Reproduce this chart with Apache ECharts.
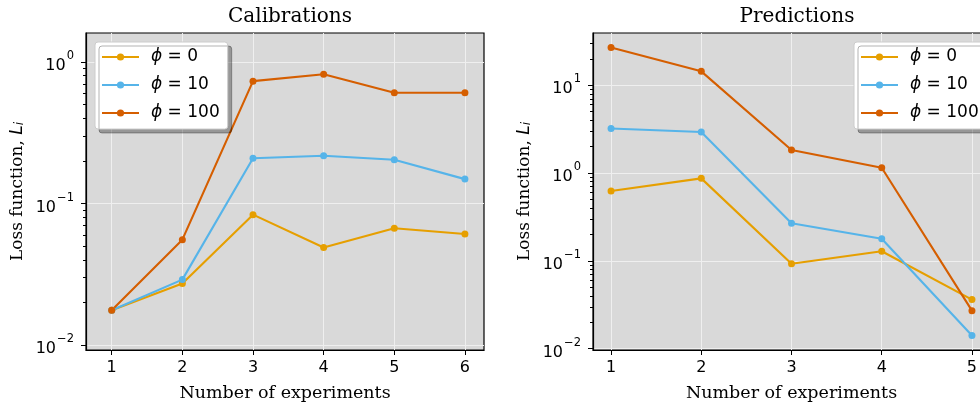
<!DOCTYPE html>
<html><head><meta charset="utf-8">
<script src="https://cdn.jsdelivr.net/npm/echarts@6/dist/echarts.min.js"></script>
<style>html,body{margin:0;padding:0;background:#fff}#c{width:980px;height:405px}</style>
</head><body><div id="c"></div>
<script>
// ---- data ----
const calibX = [1, 2, 3, 4, 5, 6];
const calibPhi0 = [0.0177, 0.0273, 0.0836, 0.049, 0.067, 0.061];
const calibPhi10 = [0.0177, 0.0291, 0.209, 0.218, 0.204, 0.149];
const calibPhi100 = [0.0177, 0.0557, 0.732, 0.820, 0.606, 0.606];
const predX = [1, 2, 3, 4, 5];
const predPhi0 = [0.624, 0.870, 0.0929, 0.1286, 0.0362];
const predPhi10 = [3.22, 2.93, 0.268, 0.179, 0.0141];
const predPhi100 = [26.9, 14.4, 1.83, 1.149, 0.0271];
const seriesNames = ['ϕ = 0', 'ϕ = 10', 'ϕ = 100'];
const calibXTicks = [1, 2, 3, 4, 5, 6];
const predXTicks = [1, 2, 3, 4, 5];
const calibMajorY = [0.01, 0.1, 1];
const calibMinorY = [0.02, 0.03, 0.04, 0.05, 0.06, 0.07, 0.08, 0.09, 0.2, 0.3, 0.4, 0.5, 0.6, 0.7, 0.8, 0.9];
const predMajorY = [0.01, 0.1, 1, 10];
const predMinorY = [0.02, 0.03, 0.04, 0.05, 0.06, 0.07, 0.08, 0.09, 0.2, 0.3, 0.4, 0.5, 0.6, 0.7, 0.8, 0.9, 2, 3, 4, 5, 6, 7, 8, 9, 20, 30];

// ---- style ----
const colors = ['#E69F00', '#56B4E9', '#D55E00'];
const SERIF = 'DejaVu Serif';
const SANS = 'DejaVu Sans';
const chart = echarts.init(document.getElementById('c'), null, {renderer: 'canvas'});

function pairs(xs, ys) { return xs.map((x, i) => [x, ys[i]]); }
function powLabel(v) {
  const e = Math.round(Math.log10(v));
  const s = e < 0 ? '−' + (-e) : String(e);
  return '{b|10}{s|' + s + '}';
}
const tickLabelRich = {
  b: {fontFamily: SANS, fontSize: 16, color: '#000', lineHeight: 24, verticalAlign: 'bottom'},
  s: {fontFamily: SANS, fontSize: 11.5, color: '#000', lineHeight: 24, verticalAlign: 'top', padding: [0, 0, 0, 1]}
};

const grids = [
  {left: 86, top: 33, width: 398, height: 317},
  {left: 593, top: 33, width: 397, height: 317}
].map(g => Object.assign(g, {show: true, backgroundColor: '#d9d9d9', borderColor: '#000', borderWidth: 1.2,
  containLabel: false, outerBoundsMode: 'none'}));

function xAxisDef(gi, min, max, ticks) {
  return {
    type: 'value', gridIndex: gi, min: min, max: max,
    name: 'Number of experiments', nameLocation: 'middle', nameGap: 34,
    nameTextStyle: {fontFamily: SERIF, fontSize: 17.5, color: '#000'},
    axisLine: {show: true, lineStyle: {color: '#000', width: 1.2}},
    axisTick: {show: true, inside: false, length: 5, customValues: ticks, lineStyle: {color: '#000', width: 1}},
    axisLabel: {show: true, customValues: ticks, margin: 10, fontFamily: SANS, fontSize: 16, color: '#000'},
    splitLine: {show: true, lineStyle: {color: '#efefef', width: 1}}
  };
}
function yAxisMajor(gi, min, max, ticks) {
  return {
    type: 'log', logBase: 10, gridIndex: gi, min: min, max: max, position: 'left',
    name: 'Loss function, {it|L}{sub|i}', nameLocation: 'middle', nameGap: 60,
    nameTextStyle: {fontFamily: SERIF, fontSize: 17, color: '#000',
      rich: {it: {fontFamily: SANS, fontStyle: 'italic', fontSize: 17, color: '#000'},
             sub: {fontFamily: SANS, fontStyle: 'italic', fontSize: 12, color: '#000', verticalAlign: 'bottom', lineHeight: 14}}},
    axisLine: {show: true, lineStyle: {color: '#000', width: 1.2}},
    axisTick: {show: true, inside: false, length: 5, customValues: ticks, lineStyle: {color: '#000', width: 1}},
    axisLabel: {show: true, customValues: ticks, margin: 12, formatter: powLabel, rich: tickLabelRich},
    splitLine: {show: true, lineStyle: {color: '#efefef', width: 1}},
    minorTick: {show: false}
  };
}
function yAxisMinor(gi, min, max, ticks) {
  return {
    type: 'log', logBase: 10, gridIndex: gi, min: min, max: max, position: 'left', offset: 0,
    axisLine: {show: false},
    axisTick: {show: true, inside: false, length: 3, customValues: ticks, lineStyle: {color: '#000', width: 1}},
    axisLabel: {show: false},
    splitLine: {show: false}
  };
}

function lineSeries(name, xi, yi, data, color) {
  return {
    type: 'line', name: name, xAxisIndex: xi, yAxisIndex: yi, data: data,
    symbol: 'circle', symbolSize: 7, showSymbol: true,
    lineStyle: {color: color, width: 2.1},
    itemStyle: {color: color},
    emphasis: {disabled: true}, animation: false, clip: true
  };
}

function legendDef(left) {
  return {
    orient: 'vertical', left: left, top: 42,
    data: seriesNames,
    itemWidth: 37, itemHeight: 9, itemGap: 10,
    padding: [6, 8, 7, 6],
    backgroundColor: '#ffffff', borderColor: '#cccccc', borderWidth: 1, borderRadius: 3,
    shadowColor: 'rgba(0,0,0,0.3)', shadowBlur: 0, shadowOffsetX: 4, shadowOffsetY: 4,
    selectedMode: false,
    formatter: function (n) { return '{i|ϕ}{t|' + n.slice(1) + '}'; },
    textStyle: {
      fontFamily: SANS, fontSize: 17, color: '#000', lineHeight: 18, padding: [0, 0, 0, 7],
      rich: {i: {fontFamily: SANS, fontStyle: 'italic', fontSize: 17, lineHeight: 18},
             t: {fontFamily: SANS, fontSize: 17, lineHeight: 18}}
    }
  };
}

const calibLo = Math.pow(10, -2.033), calibHi = Math.pow(10, 0.2045);
const predLo = Math.pow(10, -2.015), predHi = Math.pow(10, 1.595);

const option = {
  backgroundColor: '#ffffff',
  animation: false,
  title: [
    {text: 'Calibrations', left: 285, top: 2, textAlign: 'center', textStyle: {fontFamily: SERIF, fontSize: 20, fontWeight: 'normal', color: '#000'}},
    {text: 'Predictions', left: 792, top: 2, textAlign: 'center', textStyle: {fontFamily: SERIF, fontSize: 20, fontWeight: 'normal', color: '#000'}}
  ],
  grid: grids,
  xAxis: [xAxisDef(0, 0.636, 6.27, calibXTicks), xAxisDef(1, 0.8, 5.2, predXTicks)],
  yAxis: [
    yAxisMajor(0, calibLo, calibHi, calibMajorY),
    yAxisMinor(0, calibLo, calibHi, calibMinorY),
    yAxisMajor(1, predLo, predHi, predMajorY),
    yAxisMinor(1, predLo, predHi, predMinorY)
  ],
  legend: [legendDef(95), legendDef(854)],
  series: [
    lineSeries(seriesNames[0], 0, 0, pairs(calibX, calibPhi0), colors[0]),
    lineSeries(seriesNames[1], 0, 0, pairs(calibX, calibPhi10), colors[1]),
    lineSeries(seriesNames[2], 0, 0, pairs(calibX, calibPhi100), colors[2]),
    lineSeries(seriesNames[0], 1, 2, pairs(predX, predPhi0), colors[0]),
    lineSeries(seriesNames[1], 1, 2, pairs(predX, predPhi10), colors[1]),
    lineSeries(seriesNames[2], 1, 2, pairs(predX, predPhi100), colors[2])
  ]
};
chart.setOption(option);
</script></body></html>
